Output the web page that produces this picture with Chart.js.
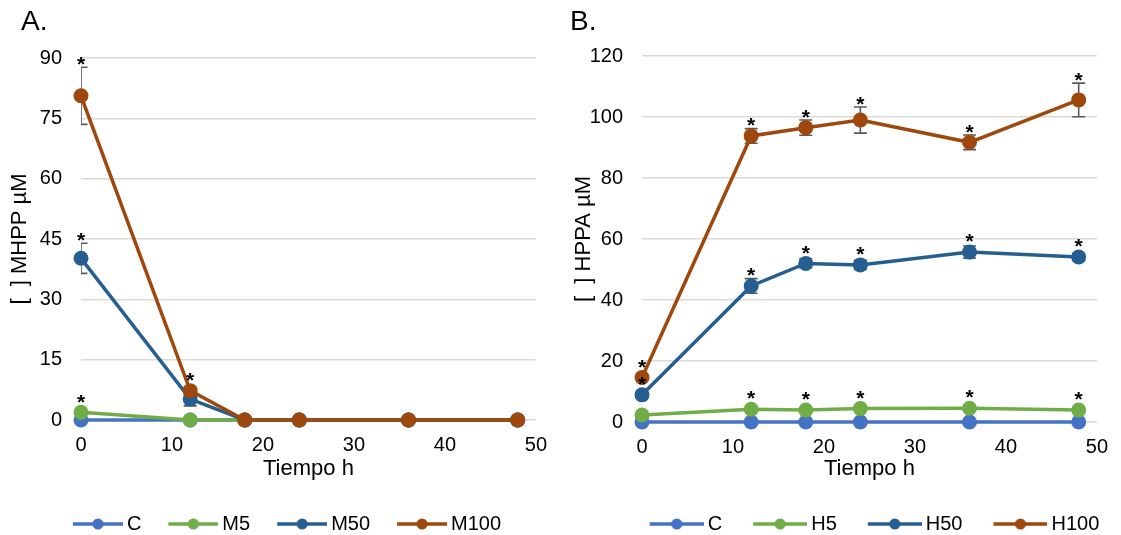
<!DOCTYPE html>
<html><head><meta charset="utf-8">
<script src="https://cdn.jsdelivr.net/npm/chart.js@4/dist/chart.umd.min.js"></script>
<style>
html,body{margin:0;padding:0;background:#fff;overflow:hidden;width:1121px;height:535px}
#a{position:absolute;left:0;top:0}
#b{position:absolute;left:560px;top:0}
</style></head><body>
<canvas id="a" width="560" height="544"></canvas>
<canvas id="b" width="561" height="544"></canvas>
<script>
// ---------- shared ----------
const times = [0, 12, 18, 24, 36, 48];
const xTicks = [0, 10, 20, 30, 40, 50];
const colors = ['#4472C4', '#70AD47', '#255E91', '#9E480E'];

// ---------- Panel A ----------
const panelA = 'A.';
const seriesA = ['C', 'M5', 'M50', 'M100'];
const cA   = [0, 0, 0, 0, 0, 0];
const m5   = [1.9, 0, 0, 0, 0, 0];
const m50  = [40.2, 5.2, 0, 0, 0, 0];
const m100 = [80.6, 7.3, 0, 0, 0, 0];
const errCA  = [0, 0, 0, 0, 0, 0];
const errM5  = [0, 0, 0, 0, 0, 0];
const errM50 = [3.75, 1.7, 0, 0, 0, 0];
const errM100 = [7.1, 0.8, 0, 0, 0, 0];
const sigCA  = [0, 0, 0, 0, 0, 0];
const sigM5  = [1, 0, 0, 0, 0, 0];
const sigM50 = [1, 0, 0, 0, 0, 0];
const sigM100 = [1, 1, 0, 0, 0, 0];
const yTicksA = [0, 15, 30, 45, 60, 75, 90];
const yTitleA = '[  ] MHPP µM';

// ---------- Panel B ----------
const panelB = 'B.';
const seriesB = ['C', 'H5', 'H50', 'H100'];
const cB   = [0, 0, 0, 0, 0, 0];
const h5   = [2.3, 4.2, 3.9, 4.4, 4.5, 3.9];
const h50  = [8.9, 44.6, 52.0, 51.5, 55.7, 54.1];
const h100 = [14.6, 93.8, 96.5, 99.0, 91.7, 105.6];
const errCB  = [0, 0, 0, 0, 0, 0];
const errH5  = [0, 0, 0, 0, 0, 0];
const errH50 = [0.8, 2.4, 1.5, 1.5, 2.0, 1.2];
const errH100 = [1.0, 2.4, 2.5, 4.3, 2.4, 5.5];
const sigCB  = [0, 0, 0, 0, 0, 0];
const sigH5  = [0, 1, 1, 1, 1, 1];
const sigH50 = [1, 1, 1, 1, 1, 1];
const sigH100 = [1, 1, 1, 1, 1, 1];
const yTicksB = [0, 20, 40, 60, 80, 100, 120];
const yTitleB = '[  ] HPPA µM';
const xTitle = 'Tiempo h';

const FONT = "'Liberation Sans', Arial, sans-serif";
Chart.defaults.font.family = FONT;
Chart.defaults.color = '#000';

function makeSym(color, P, L) {
  const e = 6;
  const c = document.createElement('canvas');
  c.width = P + 2 * e; c.height = 16;
  const g = c.getContext('2d');
  g.strokeStyle = color; g.lineWidth = 3.5;
  g.beginPath(); g.moveTo(c.width - L, 8); g.lineTo(c.width, 8); g.stroke();
  g.fillStyle = color; g.beginPath(); g.arc(c.width - L / 2, 8, 5.5, 0, Math.PI * 2); g.fill();
  return c;
}

const extras = {
  id: 'extras',
  afterLayout(chart, args, o) {
    if (chart.legend) { chart.legend.left += o.shift; chart.legend.right += o.shift; }
  },
  beforeDatasetsDraw(chart, args, o) {
    const {ctx, chartArea: a, scales: {x, y}} = chart;
    ctx.save();
    ctx.beginPath(); ctx.rect(a.left, 0, a.right - a.left + 20, chart.height); ctx.clip();
    ctx.strokeStyle = '#595959'; ctx.lineWidth = 1.6;
    chart.data.datasets.forEach(ds => {
      ds.data.forEach((p, i) => {
        const e = ds.err[i]; if (!e) return;
        const px = x.getPixelForValue(p.x);
        const t = y.getPixelForValue(p.y + e), b = y.getPixelForValue(p.y - e);
        ctx.beginPath();
        ctx.moveTo(px, t); ctx.lineTo(px, b);
        ctx.moveTo(px - 6.5, t); ctx.lineTo(px + 6.5, t);
        ctx.moveTo(px - 6.5, b); ctx.lineTo(px + 6.5, b);
        ctx.stroke();
      });
    });
    ctx.restore();
  },
  afterDatasetsDraw(chart, args, o) {
    const {ctx, scales: {x, y}} = chart;
    ctx.save();
    ctx.fillStyle = '#000';
    ctx.font = 'bold 21px ' + FONT;
    ctx.textAlign = 'center'; ctx.textBaseline = 'alphabetic';
    chart.data.datasets.forEach(ds => {
      ds.data.forEach((p, i) => {
        if (!ds.sig[i]) return;
        const px = x.getPixelForValue(p.x);
        const py = y.getPixelForValue(p.y);
        const et = y.getPixelForValue(p.y + (ds.err[i] || 0));
        const top = Math.min(py - 7.5, et);
        const yc = top - o.gap;
        ctx.fillText('*', px, yc + 12.2);
      });
    });
    ctx.font = '28px ' + FONT;
    ctx.textAlign = 'left'; ctx.textBaseline = 'middle';
    ctx.fillText(o.label, o.lx, 22);
    ctx.restore();
  }
};

function build(id, p) {
  const datasets = p.series.map((name, k) => ({
    label: name,
    data: times.map((t, i) => ({x: t, y: p.values[k][i]})),
    err: p.errs[k],
    sig: p.sigs[k],
    borderColor: colors[k],
    backgroundColor: colors[k],
    pointBackgroundColor: colors[k],
    pointBorderWidth: 0,
    pointRadius: 7.5,
    pointHoverRadius: 7.5,
    borderWidth: 3.5,
    tension: 0,
    clip: false,
    order: 4 - k
  }));
  const syms = p.series.map((n, k) => makeSym(colors[k], p.P, p.L));
  return new Chart(document.getElementById(id), {
    type: 'line',
    data: {datasets},
    options: {
      responsive: false,
      animation: false,
      events: [],
      layout: {padding: {top: p.top, right: 21, left: 0, bottom: 0}},
      scales: {
        x: {
          type: 'linear',
          min: xTicks[0], max: xTicks[xTicks.length - 1],
          afterBuildTicks: s => { s.ticks = xTicks.map(v => ({value: v})); },
          afterFit: s => { s.height = p.xh; },
          grid: {display: false, drawTicks: false},
          border: {display: false},
          ticks: {font: {size: 20}, padding: 13, color: '#000', maxRotation: 0},
          title: {display: true, text: xTitle, font: {size: 22}, padding: {top: 0, bottom: 30}, color: '#000'}
        },
        y: {
          min: p.yTicks[0], max: p.yTicks[p.yTicks.length - 1],
          afterBuildTicks: s => { s.ticks = p.yTicks.map(v => ({value: v})); },
          afterFit: s => { s.width = p.yw; },
          grid: {color: '#D9D9D9', lineWidth: 1.5, drawTicks: false},
          border: {display: false},
          ticks: {font: {size: 20}, padding: 19, color: '#000'},
          title: {display: true, text: p.yTitle, font: {size: 22}, padding: {top: p.ytp, bottom: 0}, color: '#000'}
        }
      },
      plugins: {
        legend: {
          position: 'bottom',
          labels: {
            usePointStyle: true,
            pointStyleWidth: p.P,
            padding: 2,
            font: {size: 20},
            color: '#000',
            sort: (a, b) => a.datasetIndex - b.datasetIndex,
            generateLabels: chart => {
              const items = Chart.defaults.plugins.legend.labels.generateLabels(chart);
              items.forEach(it => { it.pointStyle = syms[it.datasetIndex]; });
              return items;
            }
          }
        },
        tooltip: {enabled: false},
        extras: {shift: p.shift, gap: 8.5, label: p.label, lx: p.lx}
      }
    },
    plugins: [extras]
  });
}

build('a', {
  series: seriesA, values: [cA, m5, m50, m100], errs: [errCA, errM5, errM50, errM100],
  sigs: [sigCA, sigM5, sigM50, sigM100], yTicks: yTicksA, yTitle: yTitleA,
  top: 58, xh: 92, yw: 81, ytp: 7, P: 69, L: 50, shift: 5, label: panelA, lx: 21
});
build('b', {
  series: seriesB, values: [cB, h5, h50, h100], errs: [errCB, errH5, errH50, errH100],
  sigs: [sigCB, sigH5, sigH50, sigH100], yTicks: yTicksB, yTitle: yTitleB,
  top: 56, xh: 90, yw: 82, ytp: 11, P: 77, L: 54, shift: 30, label: panelB, lx: 10
});
</script>
</body></html>
